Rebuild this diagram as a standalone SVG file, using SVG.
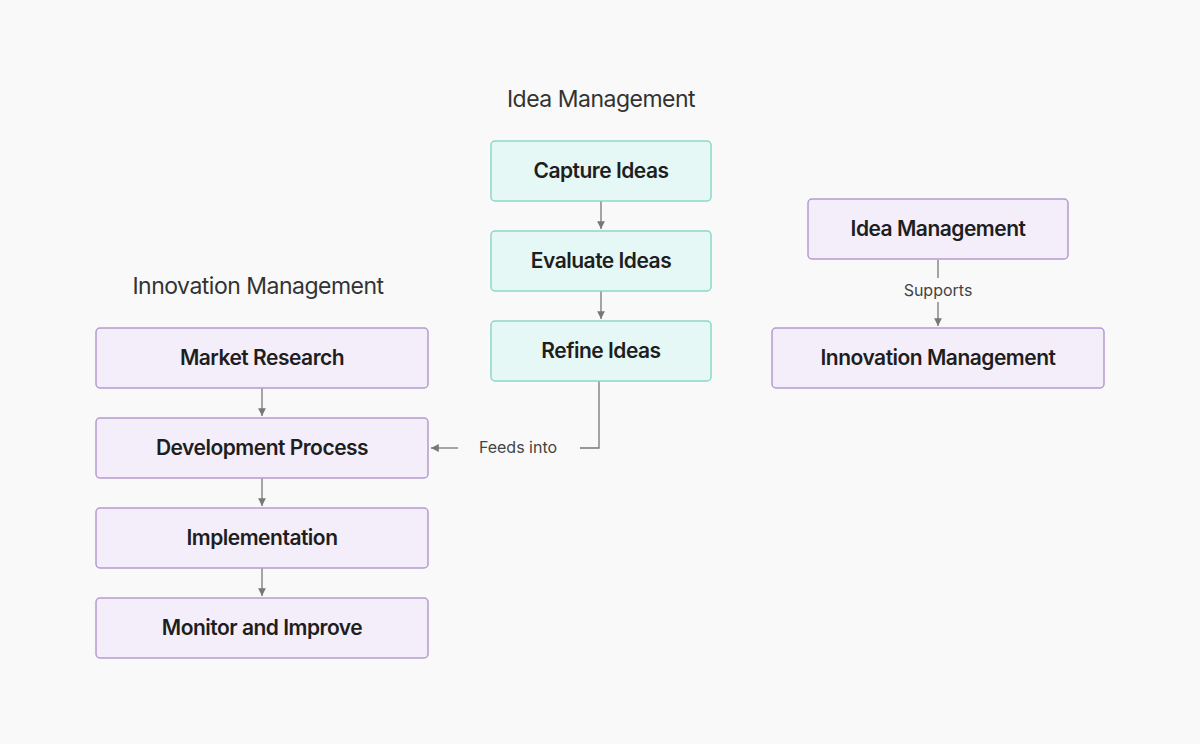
<svg xmlns="http://www.w3.org/2000/svg" width="1200" height="744" viewBox="0 0 1200 744">
<style>
.t{font-family:Inter,"Liberation Sans",sans-serif;font-size:21px;font-weight:600;fill:#1e1e1e;text-anchor:middle;letter-spacing:-0.5px}
.h{font-family:Inter,"Liberation Sans",sans-serif;font-size:23px;fill:#333;text-anchor:middle;letter-spacing:-0.5px}
.l{font-family:Inter,"Liberation Sans",sans-serif;font-size:16px;fill:#444;text-anchor:middle}
.p{fill:#f4eefb;stroke:#b59ad0;stroke-width:1.5}
.g{fill:#e6f8f5;stroke:#8ad8c8;stroke-width:1.5}
.c{fill:none;stroke:#777;stroke-width:1.3}
</style>
<defs><marker id="a" markerWidth="8" markerHeight="8" refX="6" refY="3" orient="auto"><path d="M0,0L6,3L0,6z" fill="#777"/></marker></defs>
<rect width="1200" height="744" fill="#f9f9f9"/>
<text class="h" x="601" y="107">Idea Management</text>
<text class="h" x="258" y="294">Innovation Management</text>
<g id="connectors">
<line class="c" x1="601" y1="201" x2="601" y2="229" marker-end="url(#a)"/>
<line class="c" x1="601" y1="291" x2="601" y2="319" marker-end="url(#a)"/>
<polyline class="c" points="599,381 599,448 580,448"/>
<line class="c" x1="458" y1="448" x2="431" y2="448" marker-end="url(#a)"/>
<text class="l" x="518" y="453">Feeds into</text>
<line class="c" x1="262" y1="388" x2="262" y2="416" marker-end="url(#a)"/>
<line class="c" x1="262" y1="478" x2="262" y2="506" marker-end="url(#a)"/>
<line class="c" x1="262" y1="568" x2="262" y2="596" marker-end="url(#a)"/>
<line class="c" x1="938" y1="260" x2="938" y2="278"/>
<line class="c" x1="938" y1="302" x2="938" y2="326" marker-end="url(#a)"/>
<text class="l" x="938" y="296">Supports</text>
</g>
<g id="capture"><rect class="g" x="491" y="141" width="220" height="60" rx="4"/><text class="t" x="601" y="178">Capture Ideas</text></g>
<g id="evaluate"><rect class="g" x="491" y="231" width="220" height="60" rx="4"/><text class="t" x="601" y="268">Evaluate Ideas</text></g>
<g id="refine"><rect class="g" x="491" y="321" width="220" height="60" rx="4"/><text class="t" x="601" y="358">Refine Ideas</text></g>
<g id="market"><rect class="p" x="96" y="328" width="332" height="60" rx="4"/><text class="t" x="262" y="365">Market Research</text></g>
<g id="dev"><rect class="p" x="96" y="418" width="332" height="60" rx="4"/><text class="t" x="262" y="455">Development Process</text></g>
<g id="impl"><rect class="p" x="96" y="508" width="332" height="60" rx="4"/><text class="t" x="262" y="545">Implementation</text></g>
<g id="monitor"><rect class="p" x="96" y="598" width="332" height="60" rx="4"/><text class="t" x="262" y="635">Monitor and Improve</text></g>
<g id="idea2"><rect class="p" x="808" y="199" width="260" height="60" rx="4"/><text class="t" x="938" y="236">Idea Management</text></g>
<g id="innov2"><rect class="p" x="772" y="328" width="332" height="60" rx="4"/><text class="t" x="938" y="365">Innovation Management</text></g>
</svg>
